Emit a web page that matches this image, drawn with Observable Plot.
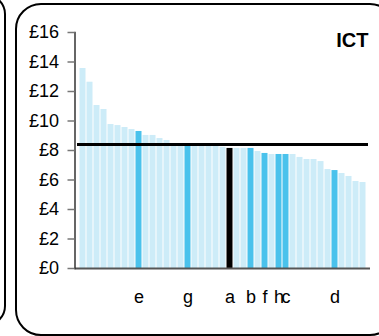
<!DOCTYPE html>
<html><head><meta charset="utf-8">
<script src="https://cdn.jsdelivr.net/npm/d3@7"></script>
<script src="https://cdn.jsdelivr.net/npm/@observablehq/plot@0.6"></script>
<style>
body{margin:0;background:#fff;}
#wrap{position:relative;width:379px;height:336px;overflow:hidden;}
.panel{position:absolute;border:2px solid #000;box-sizing:border-box;}
#chart{position:absolute;left:0;top:0;}
</style></head><body>
<div id="wrap">
<div class="panel" style="left:-60px;top:-6px;width:65.5px;height:332px;border-radius:20px;"></div>
<div class="panel" style="left:15px;top:3px;width:381px;height:332.5px;border-radius:26px;"></div>
<div id="chart"></div>
</div>
<script>
const values = [13.56, 12.63, 11.05, 10.78, 9.76, 9.69, 9.56, 9.42, 9.29, 9.02,
  9.02, 8.81, 8.68, 8.45, 8.45, 8.38, 8.34, 8.34, 8.27, 8.27,
  8.22, 8.14, 8.14, 8.14, 8.14, 7.93, 7.80, 7.73, 7.73, 7.73,
  7.73, 7.53, 7.39, 7.39, 7.25, 6.71, 6.64, 6.44, 6.24, 5.90, 5.83];
const labels = ["", "", "", "", "", "", "", "", "e", "",
  "", "", "", "", "", "g", "", "", "", "",
  "", "a", "", "", "b", "", "f", "", "h", "c",
  "", "", "", "", "", "", "d", "", "", "", ""];
const kinds = ["other","other","other","other","other","other","other","other","highlight","other",
  "other","other","other","other","other","highlight","other","other","other","other",
  "other","selected","other","other","highlight","other","highlight","other","highlight","highlight",
  "other","other","other","other","other","other","highlight","other","other","other","other"];
const average = 8.4;
const yTicks = [0, 2, 4, 6, 8, 10, 12, 14, 16];
const title = "ICT";

const bars = values.map((v, i) => ({i, v, label: labels[i], kind: kinds[i]}));

const chart = Plot.plot({
  width: 379, height: 336,
  marginLeft: 74.5, marginRight: 9, marginTop: 32, marginBottom: 68,
  style: {fontFamily: "'Liberation Sans', Arial, sans-serif", fontSize: "18px", background: "transparent", overflow: "visible"},
  x: {type: "band", domain: d3.range(values.length), padding: 0, axis: null, label: null},
  y: {domain: [0, 16], axis: null, label: null},
  color: {type: "ordinal", domain: ["other", "highlight", "selected"], range: ["#cdecf8", "#4ac2ec", "#000000"]},
  marks: [
    Plot.barY(bars, {x: "i", y: "v", fill: "kind", insetLeft: 0.5, insetRight: 0.5}),
    Plot.ruleY([average], {stroke: "#000", strokeWidth: 3, insetLeft: 2.5, insetRight: 2}),
    Plot.ruleY([0], {stroke: "#555", strokeWidth: 2}),
    Plot.frame({anchor: "left", stroke: "#333", strokeWidth: 1.5}),
    Plot.axisY({ticks: yTicks, tickFormat: d => "£" + d, tickSize: 7, tickPadding: 9, stroke: "#777", strokeWidth: 1.5, fill: "#000", label: null}),
    Plot.axisX({tickSize: 0, tickPadding: 22, tickFormat: i => labels[i], fill: "#000", label: null}),
    Plot.text([title], {frameAnchor: "top-right", dx: -2, dy: 8, fontWeight: "bold", fontSize: 20, lineAnchor: "middle", textAnchor: "end", fill: "#000"})
  ]
});
document.getElementById("chart").appendChild(chart);
</script>
</body></html>
